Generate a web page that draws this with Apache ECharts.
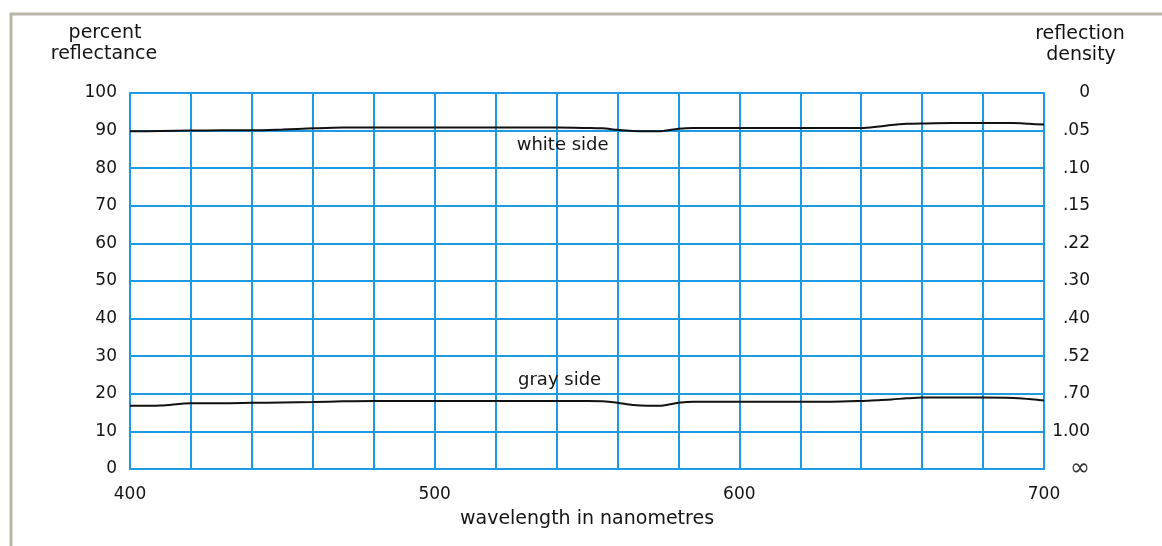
<!DOCTYPE html>
<html><head><meta charset="utf-8">
<script src="https://cdn.jsdelivr.net/npm/echarts@6/dist/echarts.min.js"></script>
<style>html,body{margin:0;padding:0;background:#fff}#c{width:1162px;height:546px}</style>
</head><body><div id="c"></div>
<script>
const wavelengths = [400,410,420,430,440,450,460,470,480,490,500,510,520,530,540,550,555,560,565,570,575,580,585,590,600,610,620,630,640,645,650,655,660,670,680,690,695,700];
const whiteSide   = [89.8,89.9,90.0,90.1,90.1,90.3,90.6,90.8,90.8,90.8,90.8,90.8,90.8,90.8,90.8,90.7,90.6,90.2,89.9,89.8,89.9,90.5,90.7,90.7,90.7,90.7,90.7,90.7,90.7,91.0,91.5,91.8,91.9,92.0,92.0,92.0,91.8,91.6];
const graySide    = [16.8,16.9,17.5,17.5,17.6,17.7,17.8,18.0,18.1,18.1,18.1,18.1,18.1,18.1,18.1,18.1,18.0,17.6,17.0,16.8,16.9,17.6,17.9,17.9,17.9,17.9,17.9,17.9,18.1,18.3,18.5,18.8,19.0,19.0,19.0,18.9,18.6,18.2];
const leftTicks   = ['0','10','20','30','40','50','60','70','80','90','100'];
const rightTicks  = ['\u221E','1.00','.70','.52','.40','.30','.22','.15','.10','.05','0'];
const xTickLabels = [400,500,600,700];

const blue = '#1c9be4';
const txt = '#141414';
const font = '"DejaVu Sans", "Liberation Sans", sans-serif';
const chart = echarts.init(document.getElementById('c'));
function label(text, x, y) {
  return {type:'text', x:x, y:y, style:{text:text, font:'19px '+font, fill:txt, align:'center', verticalAlign:'middle'}};
}
chart.setOption({
  backgroundColor: '#fff',
  animation: false,
  grid: {left:130, right:118, top:93, bottom:77, show:false},
  graphic: [
    {type:'rect', shape:{x:11,y:14,width:1160,height:540}, style:{fill:'none', stroke:'#b9b6a8', lineWidth:3}, z:0},
    label('percent', 105, 33),
    label('reflectance', 104, 54),
    label('reflection', 1080, 34),
    label('density', 1081, 55),
    label('wavelength in nanometres', 587, 519)
  ],
  xAxis: {
    type:'value', min:400, max:700, interval:20,
    axisLine:{show:true, lineStyle:{color:blue, width:2}},
    axisTick:{show:false},
    splitLine:{show:true, lineStyle:{color:blue, width:2}},
    axisLabel:{margin:17, color:txt, fontSize:17, fontFamily:font,
      formatter: v => xTickLabels.indexOf(v) >= 0 ? String(v) : ''}
  },
  yAxis: [
    {type:'value', min:0, max:100, interval:10, position:'left',
     axisLine:{show:true, lineStyle:{color:blue, width:2}}, axisTick:{show:false},
     splitLine:{show:true, lineStyle:{color:blue, width:2}},
     axisLabel:{margin:13, color:txt, fontSize:17, fontFamily:font, formatter: v => leftTicks[Math.round(v/10)]}},
    {type:'value', min:0, max:100, interval:10, position:'right',
     axisLine:{show:true, lineStyle:{color:blue, width:2}}, axisTick:{show:false},
     splitLine:{show:false},
     axisLabel:{margin:46, align:'right', color:txt, fontSize:17, fontFamily:font,
       rich:{inf:{fontSize:24, fontFamily:font, color:'#333'}},
       formatter: v => { const t = rightTicks[Math.round(v/10)]; return t === '\u221E' ? '{inf|' + t + '}' : t; }}}
  ],
  series: [
    {type:'line', name:'white side', data: wavelengths.map((w,i)=>[w, whiteSide[i]]), smooth:0.3, symbol:'none',
     lineStyle:{color:'#111', width:2},
     markPoint:{symbol:'circle', symbolSize:1, itemStyle:{color:'rgba(0,0,0,0)'},
       label:{show:true, position:'inside', color:txt, fontSize:18, fontFamily:font},
       data:[{coord:[542,86.2], value:0, label:{formatter:'white side'}}]}},
    {type:'line', name:'gray side', data: wavelengths.map((w,i)=>[w, graySide[i]]), smooth:0.3, symbol:'none',
     lineStyle:{color:'#111', width:2},
     markPoint:{symbol:'circle', symbolSize:1, itemStyle:{color:'rgba(0,0,0,0)'},
       label:{show:true, position:'inside', color:txt, fontSize:18, fontFamily:font},
       data:[{coord:[541,23.7], value:0, label:{formatter:'gray side'}}]}}
  ]
});
</script></body></html>
